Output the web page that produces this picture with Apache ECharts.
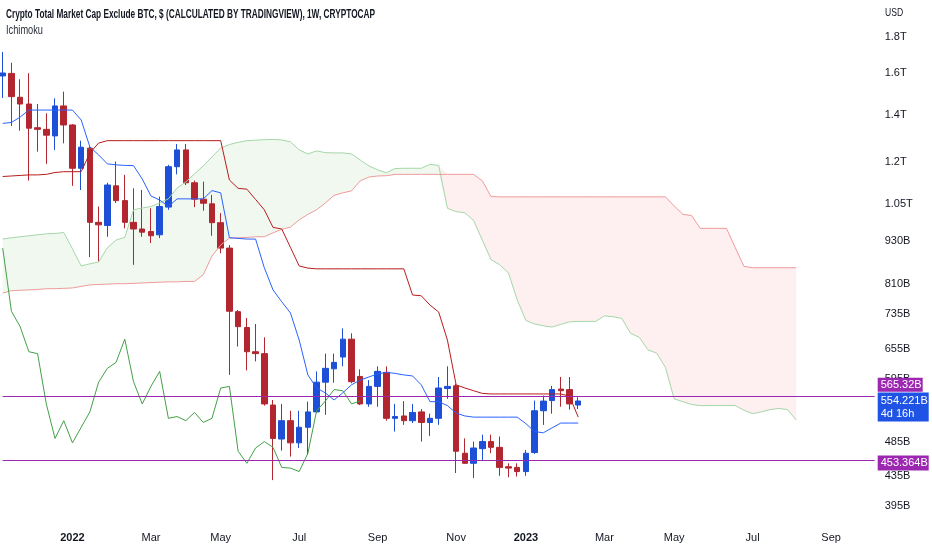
<!DOCTYPE html>
<html><head><meta charset="utf-8">
<script src="https://cdn.jsdelivr.net/npm/echarts@6.0.0/dist/echarts.min.js"></script>
<style>html,body{margin:0;padding:0;background:#fff}#main{width:932px;height:550px}</style>
</head><body><div id="main"></div>
<script>
// ---- categories: weekly bars (Monday) incl. 26-week future projection ----
const startWeek = '2021-11-08';
const weekCount = 101;
const monthNames = ['Jan','Feb','Mar','Apr','May','Jun','Jul','Aug','Sep','Oct','Nov','Dec'];
const weeks = [];
for (let i = 0; i < weekCount; i++) {
  weeks.push(new Date(Date.parse(startWeek + 'T00:00:00Z') + i * 7 * 864e5).toISOString().slice(0, 10));
}

// ---- candles (values in billions USD) ----
const open  = [1587,1600,1481,1449,1342,1335,1307,1440,1354,1177,1256,988,978,1112,1060,988,967,959,949,1038,1183,1249,1123,1065,1049,987,909,740,703,650,646,547,490,520,484,509,535,589,615,639,677,600,549,581,608,524,528,520,535,517,524,577,582,468,453,475,486,477,448,447,441,469,537,555,576,575,547];
const close = [1602,1484,1449,1340,1335,1310,1440,1354,1177,1260,988,980,1115,1060,988,967,957,946,1040,1183,1249,1123,1065,1051,987,909,741,705,650,646,549,491,520,484,509,535,589,616,628,677,590,549,581,610,524,527,520,534,517,524,578,581,471,453,476,486,477,447,446,441,468,537,554,575,573,549,554.221];
const low   = [1478,1350,1329,1131,1242,1194,1249,1276,1112,1097,883,870,943,1052,969,861,943,924,939,1029,1154,1115,1038,1026,946,894,603,661,612,630,546,429,472,463,476,466,533,530,588,620,587,547,544,544,520,502,513,516,486,495,513,558,439,452,432,458,468,435,433,434,435,467,513,532,544,539,540];
const high  = [1715,1656,1570,1601,1449,1406,1476,1508,1358,1287,1263,1040,1123,1203,1152,1103,1097,1034,1074,1190,1273,1273,1131,1127,1080,1018,918,744,725,711,681,556,549,537,537,553,610,646,646,701,690,614,593,620,620,549,554,549,540,532,599,620,586,491,486,497,497,494,453,453,473,555,564,582,599,599,561];

// ---- Ichimoku lines (as displayed, per bar) ----
const tenkan = [1361,1365,1389,1421,1421,1421,1421,1421,1421,1376,1261,1229,1194,1190,1188,1187,1137,1076,1062,1040,1066,1066,1066,1066,1095,1087,940,938,936,936,853,794,764,737,675,603,578,569,556,569,584,593,599,605,608,606,603,601,584,553,553,546,533,528,526,526,526,526,526,526,515,502,500,508,516,516,516];
const kijun  = [1146,1148,1150,1152,1152,1154,1161,1164,1164,1164,1237,1277,1287,1287,1287,1287,1287,1287,1287,1287,1287,1287,1287,1287,1287,1287,1133,1103,1100,1064,1029,972,967,911,858,852,850,850,850,850,850,850,850,850,850,850,850,781,779,756,739,675,584,578,573,568,567,567,567,567,567,567,567,567,567,563,526];
const senkouA = [936,940,943,946,949,952,953,956,907,858,864,869,910,933,941,1029,1035,1040,1052,1066,1104,1126,1156,1186,1221,1257,1271,1280,1287,1289,1291,1292,1290,1282,1249,1233,1245,1238,1237,1237,1233,1209,1186,1171,1160,1176,1177,1177,1177,1192,1188,1034,1023,1019,994,933,876,861,839,769,719,711,707,704,710,716,717,717,717,730,728,724,690,681,654,647,618,558,553,548,546,546,546,546,546,538,532,535,539,541,539,521];
const senkouB = [786,792,793,794,795,797,797,798,799,803,807,808,809,810,810,811,812,813,814,815,815,816,816,834,886,918,939,940,941,943,943,955,966,973,996,1014,1029,1052,1078,1087,1094,1130,1144,1148,1149,1154,1154,1154,1154,1154,1154,1154,1154,1154,1154,1130,1074,1073,1073,1073,1073,1073,1073,1073,1073,1073,1073,1073,1073,1073,1073,1073,1073,1073,1073,1073,1073,1042,1014,1010,969,969,969,969,911,857,853,853,853,853,853,853];
const laggingShift = 25;
const chikou = close.slice(laggingShift);

// ---- axis / annotations ----
const yTicks = [1800,1600,1400,1200,1050,930,810,735,655,595,535,485,435,395];
const yMin = 371.0, yMax = 2029;
const levels = [565.32, 453.364];
const lastPrice = 554.221;
const countdown = '4d 16h';
const titleText = 'Crypto Total Market Cap Exclude BTC, $ (CALCULATED BY TRADINGVIEW), 1W, CRYPTOCAP';
const subtitleText = 'Ichimoku';
const currencyText = 'USD';

const FONT = '"Liberation Sans",Arial,sans-serif';
const L = v => Math.log10(v);
const fmtVal = x => x >= 1000 ? (Math.round(x) / 1000) + 'T' : Math.round(x) + 'B';
const fmtLevel = x => x + 'B';

const UP = '#1D4FD7', DOWN = '#B2262F';

const cloudBase = senkouA.map((a, i) => L(Math.min(a, senkouB[i])));
const cloudUp = senkouA.map((a, i) => a > senkouB[i] ? L(a) - L(senkouB[i]) : 0);
const cloudDn = senkouA.map((a, i) => senkouB[i] > a ? L(senkouB[i]) - L(a) : 0);

const lineSeries = (name, arr, color, w) => ({
  name, type: 'line', data: arr.map(L), symbol: 'none', silent: true,
  lineStyle: { color, width: w || 1 }, z: 3
});

const chart = echarts.init(document.getElementById('main'), null, { renderer: 'canvas' });
const option = {
  animation: false,
  backgroundColor: '#ffffff',
  grid: { left: 2.7, right: 57.3, top: 0, bottom: 25, containLabel: false },
  xAxis: {
    type: 'category', data: weeks, boundaryGap: false,
    axisLine: { show: false }, axisTick: { show: false }, splitLine: { show: false },
    axisLabel: {
      margin: 7, color: '#131722', fontSize: 11, fontFamily: FONT,
      interval: (idx, val) => { const d = new Date(val + 'T00:00:00Z'); return d.getUTCDate() <= 7 && d.getUTCMonth() % 2 === 0; },
      formatter: val => { const d = new Date(val + 'T00:00:00Z'); const m = d.getUTCMonth(); return m === 0 ? '{y|' + d.getUTCFullYear() + '}' : monthNames[m]; },
      rich: { y: { fontWeight: 'bold', fontSize: 11, fontFamily: FONT, color: '#131722' } }
    }
  },
  yAxis: {
    type: 'value', position: 'right', min: L(yMin), max: L(yMax), scale: true,
    axisLine: { show: false }, axisTick: { show: false }, splitLine: { show: false },
    axisLabel: {
      customValues: yTicks.map(L), margin: 10, color: '#131722', fontSize: 11, fontFamily: FONT,
      formatter: v => fmtVal(Math.pow(10, v))
    }
  },
  series: [
    { type: 'line', data: cloudBase, stack: 'cloud', symbol: 'none', silent: true, lineStyle: { opacity: 0 }, z: 1 },
    { type: 'line', data: cloudUp, stack: 'cloud', symbol: 'none', silent: true, lineStyle: { opacity: 0 }, areaStyle: { color: 'rgba(76,175,80,0.12)' }, z: 1 },
    { type: 'line', data: cloudDn, stack: 'cloud', symbol: 'none', silent: true, lineStyle: { opacity: 0 }, areaStyle: { color: 'rgba(242,54,69,0.11)' }, z: 1 },
    lineSeries('Leading Span A', senkouA, '#A5D6A7'),
    lineSeries('Leading Span B', senkouB, '#EF9A9A'),
    {
      name: 'CRYPTOCAP:TOTAL2', type: 'candlestick', clip: false, barWidth: 6, z: 2,
      data: open.map((o, i) => [L(o), L(close[i]), L(low[i]), L(high[i])]),
      itemStyle: { color: UP, color0: DOWN, borderColor: UP, borderColor0: DOWN, borderWidth: 1 },
      markLine: {
        silent: true, symbol: ['none', 'none'], label: { show: false },
        lineStyle: { color: '#9C27B0', width: 1.2, type: 'solid', opacity: 1 },
        data: levels.map(v => ({ yAxis: L(v) }))
      }
    },
    lineSeries('Lagging Span', chikou, '#43A047'),
    lineSeries('Conversion Line', tenkan, '#2962FF'),
    lineSeries('Base Line', kijun, '#B71C1C')
  ]
};
chart.setOption(option);

const yPix = v => chart.convertToPixel({ yAxisIndex: 0 }, L(v));
const boxX = 877.7;
const gfx = [
  { type: 'text', z: 100, x: 6, y: 15, scaleX: 0.69, style: { text: titleText, x: 0, y: 0, verticalAlign: 'middle', font: '600 12px ' + FONT, fill: '#131722' } },
  { type: 'text', z: 100, x: 6, y: 31, scaleX: 0.77, style: { text: subtitleText, x: 0, y: 0, verticalAlign: 'middle', font: '12px ' + FONT, fill: '#2A2E39' } },
  { type: 'text', z: 100, x: 885, y: 13, scaleX: 0.78, style: { text: currencyText, x: 0, y: 0, verticalAlign: 'middle', font: '11px ' + FONT, fill: '#131722' } }
];
// level 1 label (pushed up by the last-price label)
const y1 = yPix(levels[0]) - 10;
gfx.push({ type: 'rect', z: 100, shape: { x: boxX, y: y1 - 7, width: 45, height: 14 }, style: { fill: '#9C27B0' } });
gfx.push({ type: 'text', z: 101, style: { text: fmtLevel(levels[0]), x: boxX + 3, y: y1, verticalAlign: 'middle', font: '11px ' + FONT, fill: '#ffffff' } });
// last price
const yp = yPix(lastPrice);
gfx.push({ type: 'rect', z: 100, shape: { x: boxX, y: yp - 8.5, width: 51, height: 29 }, style: { fill: '#1E53E5' } });
gfx.push({ type: 'text', z: 101, style: { text: fmtLevel(lastPrice), x: boxX + 3, y: yp, verticalAlign: 'middle', font: '11px ' + FONT, fill: '#ffffff' } });
gfx.push({ type: 'text', z: 101, style: { text: countdown, x: boxX + 3, y: yp + 13, verticalAlign: 'middle', font: '11px ' + FONT, fill: '#ffffff' } });
// level 2 label
const y2 = yPix(levels[1]);
gfx.push({ type: 'rect', z: 100, shape: { x: boxX, y: y2 - 7.5, width: 51, height: 15 }, style: { fill: '#9C27B0' } });
gfx.push({ type: 'text', z: 101, style: { text: fmtLevel(levels[1]), x: boxX + 3, y: y2, verticalAlign: 'middle', font: '11px ' + FONT, fill: '#ffffff' } });
chart.setOption({ graphic: gfx });
</script></body></html>
